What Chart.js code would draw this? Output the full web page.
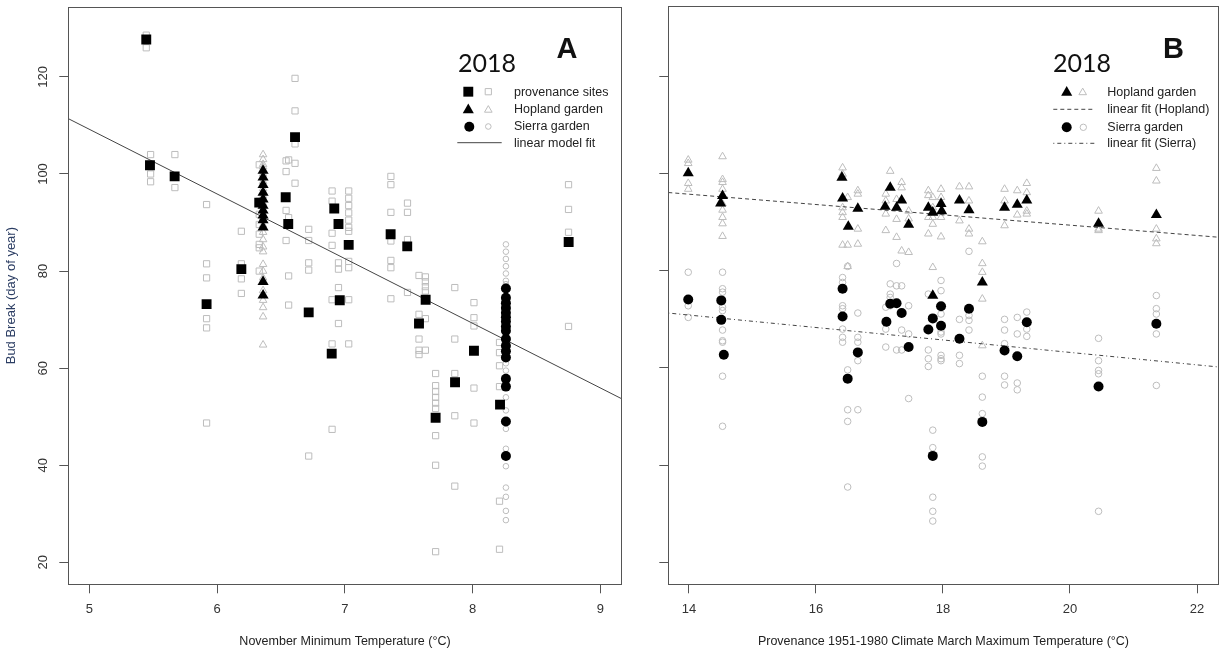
<!DOCTYPE html>
<html lang="en">
<head>
<meta charset="UTF-8">
<title>Bud break 2018</title>
<style>
  body{margin:0;background:#fff;}
  #wrap{position:relative;width:1225px;height:653px;}
  canvas{position:absolute;top:0;}
  #cA{left:0;}
  #cB{left:640px;}
</style>
</head>
<body>
<div id="wrap">
  <canvas id="cA" width="640" height="653"></canvas>
  <canvas id="cB" width="585" height="653"></canvas>
</div>
<script src="https://cdn.jsdelivr.net/npm/chart.js"></script>
<script>
// ---------- panel A : November minimum temperature ----------
var provX = [5.446, 5.475, 5.668, 5.918, 6.19, 6.33, 6.537, 6.557, 6.61, 6.717, 6.917, 6.95, 7.03, 6.96, 6.897, 7.358, 7.488, 7.632, 7.58, 8.01, 7.862, 7.71, 8.214, 8.751];
var provY = [127.7, 101.8, 99.5, 73.2, 80.4, 94.1, 95.2, 89.7, 107.6, 71.5, 92.9, 89.7, 85.4, 74.0, 63.0, 87.6, 85.1, 74.1, 69.2, 63.6, 57.1, 49.8, 52.5, 86.0];

var hoplandAX = [6.36, 6.36, 6.36, 6.36, 6.36, 6.36, 6.36, 6.36, 6.36, 6.36, 6.36, 6.36];
var hoplandAY = [100.7, 99.3, 97.8, 96.2, 94.8, 93.5, 92.5, 91.5, 90.5, 89.0, 77.8, 75.0];

var sierraAX = [8.26, 8.26, 8.26, 8.26, 8.26, 8.26, 8.26, 8.26, 8.26, 8.26, 8.26, 8.26, 8.26, 8.26, 8.26, 8.26, 8.26];
var sierraAY = [76.4, 74.5, 73.4, 72.4, 71.4, 70.5, 69.6, 68.6, 67.7, 66.0, 64.6, 63.5, 62.2, 57.8, 56.2, 49.0, 41.9];

// individual trees (hollow grey)
var provTreeX = [5.446, 5.446, 5.48, 5.48, 5.48, 5.48, 5.67, 5.67,
  5.918, 5.918, 5.918, 5.918, 5.918, 5.918, 6.19, 6.19, 6.19, 6.19,
  6.33, 6.33, 6.33, 6.33, 6.33, 6.33, 6.33, 6.33,
  6.54, 6.54, 6.54, 6.54, 6.56, 6.56, 6.56, 6.56, 6.61, 6.61, 6.61, 6.61, 6.61,
  6.717, 6.717, 6.717, 6.717, 6.717, 6.90, 6.90, 6.90, 6.90, 6.90, 6.90, 6.90,
  6.95, 6.95, 6.95, 6.95, 7.03, 7.03, 7.03, 7.03, 7.03, 7.03, 7.03, 7.03, 7.03, 7.03, 7.03,
  7.36, 7.36, 7.36, 7.36, 7.36, 7.36, 7.36, 7.49, 7.49, 7.49, 7.49,
  7.58, 7.58, 7.58, 7.58, 7.58, 7.63, 7.63, 7.63, 7.63, 7.63, 7.63,
  7.86, 7.86, 7.86, 7.86, 7.86, 8.01, 8.01, 8.01, 8.01, 8.01,
  7.71, 7.71, 7.71, 7.71, 7.71, 7.71, 7.71, 7.71, 7.71,
  8.21, 8.21, 8.21, 8.21, 8.21, 8.21, 8.75, 8.75, 8.75, 8.75];
var provTreeY = [128.6, 126.0, 104.0, 102.0, 100.0, 98.4, 104.0, 97.2,
  93.7, 81.5, 78.6, 70.2, 68.3, 48.7, 88.2, 81.5, 78.4, 75.4,
  101.9, 94.4, 91.7, 89.6, 87.6, 85.5, 84.8, 80.0,
  102.7, 100.5, 92.5, 86.3, 102.9, 91.0, 79.0, 73.0, 119.7, 113.0, 106.2, 102.2, 98.1,
  88.6, 86.3, 81.7, 80.2, 41.9, 96.5, 94.4, 87.8, 85.3, 74.1, 65.0, 47.4,
  81.7, 80.4, 76.6, 69.2, 96.5, 95.0, 93.5, 92.0, 90.5, 89.0, 88.2, 82.0, 80.7, 74.1, 65.0,
  99.5, 97.8, 92.1, 86.2, 82.2, 80.7, 74.3, 94.0, 92.1, 86.5, 75.6,
  79.1, 71.1, 66.0, 63.7, 62.8, 78.8, 77.8, 76.8, 75.9, 70.2, 63.7,
  76.6, 66.0, 58.9, 50.2, 35.7, 73.5, 70.4, 68.7, 55.9, 48.7,
  58.9, 56.4, 55.2, 54.0, 52.8, 51.7, 46.1, 40.0, 22.2,
  65.3, 63.2, 60.5, 56.2, 32.6, 22.7, 97.8, 92.7, 88.0, 68.6];

var hoplandTreeAX = [6.36, 6.36, 6.36, 6.36, 6.36, 6.36, 6.36, 6.36, 6.36, 6.36, 6.36, 6.36,
  6.36, 6.36, 6.36, 6.36, 6.36, 6.36, 6.36, 6.36, 6.36, 6.36, 6.36, 6.36];
var hoplandTreeAY = [104.0, 103.0, 102.0, 101.5, 100.0, 98.5, 97.0, 95.5, 94.0, 92.5, 91.0, 89.5,
  88.0, 86.5, 85.0, 84.0, 81.4, 80.0, 78.6, 76.0, 74.0, 72.5, 70.6, 64.8];

var sierraTreeAX = [8.26, 8.26, 8.26, 8.26, 8.26, 8.26, 8.26, 8.26, 8.26, 8.26, 8.26, 8.26,
  8.26, 8.26, 8.26, 8.26, 8.26, 8.26, 8.26, 8.26, 8.26, 8.26, 8.26, 8.26, 8.26];
var sierraTreeAY = [85.5, 84.0, 82.5, 81.0, 79.5, 78.0, 77.3, 75.0, 73.0, 71.0, 69.0, 67.0,
  65.0, 63.0, 61.0, 59.5, 54.0, 51.3, 47.5, 43.4, 39.8, 35.4, 33.5, 30.6, 28.7];

var fitAX = [4.836, 9.166];
var fitAY = [111.4, 53.7];

var xTicksA = [5, 6, 7, 8, 9];
var yTicks = [20, 40, 60, 80, 100, 120];

// ---------- panel B : March maximum temperature ----------
var hopBX = [13.99, 14.53, 14.50, 16.41, 16.42, 16.66, 16.51, 17.17, 17.09, 17.27, 17.35, 17.46, 17.77, 17.84, 17.97, 17.98, 17.84, 18.26, 18.41, 18.97, 19.17, 19.32, 18.62, 20.45, 21.36];
var hopBY = [100.1, 95.4, 93.9, 99.2, 94.9, 92.8, 89.1, 97.1, 93.2, 93.0, 94.5, 89.5, 93.0, 92.0, 93.8, 92.3, 74.9, 94.5, 92.5, 93.0, 93.6, 94.5, 77.6, 89.7, 91.5];

var sieBX = [13.99, 14.51, 14.51, 14.55, 16.42, 16.42, 16.66, 16.50, 17.11, 17.17, 17.27, 17.35, 17.46, 17.77, 17.84, 17.97, 17.97, 18.26, 18.41, 18.62, 18.97, 19.17, 19.32, 20.45, 21.36, 17.84];
var sieBY = [74.1, 73.9, 69.9, 62.7, 76.3, 70.6, 63.2, 57.8, 69.5, 73.2, 73.3, 71.3, 64.3, 67.9, 70.2, 72.7, 68.7, 66.0, 72.2, 48.9, 63.6, 62.4, 69.4, 56.2, 69.1, 41.9];

var hopTreeBX = [13.99, 13.99, 13.99, 13.99,
  14.53, 14.53, 14.53, 14.53, 14.53, 14.53, 14.53, 14.53, 14.53,
  16.42, 16.42, 16.42, 16.42, 16.42, 16.42, 16.5, 16.5, 16.5, 16.66, 16.66, 16.66, 16.66,
  17.1, 17.1, 17.1, 17.1, 17.17, 17.27, 17.27, 17.27, 17.35, 17.35, 17.35, 17.46, 17.46, 17.46,
  17.77, 17.77, 17.77, 17.77, 17.84, 17.84, 17.84, 17.84, 17.84, 17.97, 17.97, 17.97, 17.97,
  18.26, 18.26, 18.41, 18.41, 18.41, 18.41, 18.62, 18.62, 18.62, 18.62, 18.62,
  18.97, 18.97, 18.97, 19.17, 19.17, 19.32, 19.32, 19.32, 19.32, 19.32,
  20.45, 20.45, 20.45, 21.36, 21.36, 21.36, 21.36, 21.36];
var hopTreeBY = [102.8, 102.1, 98.0, 96.8,
  103.5, 98.8, 98.2, 96.8, 93.8, 92.5, 91.0, 89.7, 87.1,
  101.2, 99.9, 93.0, 92.0, 91.0, 85.3, 85.3, 80.9, 95.1, 96.5, 95.8, 88.6, 85.5,
  95.8, 94.4, 91.7, 88.3, 100.5, 94.7, 90.6, 86.9, 98.2, 97.1, 84.1, 92.3, 90.7, 83.8,
  96.5, 95.5, 91.0, 87.6, 95.1, 93.0, 91.0, 89.6, 80.7, 96.8, 95.1, 91.0, 87.0,
  97.3, 90.3, 97.3, 94.4, 88.6, 87.6, 86.0, 81.5, 79.7, 74.2, 64.6,
  96.8, 94.4, 89.3, 96.5, 91.5, 98.0, 96.1, 94.7, 92.3, 91.7,
  92.3, 88.6, 88.3, 101.1, 98.5, 88.6, 86.6, 85.6];

var sieTreeBX = [13.99, 13.99, 13.99,
  14.53, 14.53, 14.53, 14.53, 14.53, 14.53, 14.53, 14.53, 14.53, 14.53,
  16.42, 16.42, 16.42, 16.42, 16.42, 16.42, 16.42, 16.5, 16.5, 16.5, 16.5, 16.5,
  16.66, 16.66, 16.66, 16.66, 16.66, 17.1, 17.1, 17.1, 17.17, 17.17, 17.17, 17.17,
  17.27, 17.27, 17.27, 17.35, 17.35, 17.35, 17.46, 17.46, 17.46,
  17.77, 17.77, 17.77, 17.77, 17.84, 17.84, 17.84, 17.84, 17.84,
  17.97, 17.97, 17.97, 17.97, 17.97, 17.97, 17.97, 17.97,
  18.26, 18.26, 18.26, 18.41, 18.41, 18.41, 18.41, 18.62, 18.62, 18.62, 18.62, 18.62,
  18.97, 18.97, 18.97, 18.97, 18.97, 19.17, 19.17, 19.17, 19.17, 19.32, 19.32, 19.32,
  20.45, 20.45, 20.45, 20.45, 20.45, 21.36, 21.36, 21.36, 21.36, 21.36];
var sieTreeBY = [79.7, 72.8, 70.4,
  79.7, 76.3, 75.6, 72.5, 71.8, 67.8, 65.6, 65.3, 58.3, 48.0,
  78.6, 77.6, 72.8, 72.2, 68.0, 66.3, 65.3, 80.9, 59.6, 51.4, 49.0, 35.5,
  71.3, 66.3, 65.3, 61.5, 51.4, 72.5, 68.0, 64.3, 77.3, 75.2, 74.5, 72.8,
  76.9, 81.5, 63.7, 76.9, 67.8, 63.7, 72.8, 67.0, 53.7,
  75.2, 63.7, 61.9, 60.3, 47.2, 43.6, 33.4, 30.5, 28.5,
  78.0, 75.9, 71.1, 67.4, 67.0, 62.6, 61.9, 61.5,
  70.0, 62.6, 60.9, 84.0, 70.8, 69.8, 67.8, 58.3, 54.0, 50.6, 41.7, 39.8,
  70.0, 67.8, 65.0, 58.3, 56.5, 70.4, 67.0, 56.9, 55.5, 71.5, 68.0, 66.5,
  66.1, 61.5, 59.5, 58.8, 30.5, 74.9, 72.2, 71.1, 67.0, 56.4];

var hopFitX = [13.676, 22.34];
var hopFitY = [96.1, 86.9];
var sieFitX = [13.676, 22.34];
var sieFitY = [71.3, 60.2];

var xTicksB = [14, 16, 18, 20, 22];

// ---------- helpers ----------
var GREY = '#bdbdbd';
var FONT = 'Liberation Sans, Arial, sans-serif';

function pts(xs, ys) {
  return xs.map(function (x, i) { return {x: x, y: ys[i]}; });
}

function solid(label, xs, ys, style, r) {
  return {label: label, data: pts(xs, ys), pointStyle: style, pointRadius: r,
    backgroundColor: '#000', borderColor: '#000', borderWidth: 0, order: 1};
}
function hollow(label, xs, ys, style, r) {
  return {label: label, data: pts(xs, ys), pointStyle: style, pointRadius: r,
    backgroundColor: 'rgba(0,0,0,0)', borderColor: GREY, borderWidth: 1, order: 3};
}
function fitLine(label, xs, ys, dash) {
  return {label: label, data: pts(xs, ys), showLine: true, pointRadius: 0,
    borderColor: '#444', borderWidth: 1, borderDash: dash, order: 2};
}

function axisX(min, max, ticks, title) {
  return {
    type: 'linear', min: min, max: max,
    afterBuildTicks: function (s) { s.ticks = ticks.map(function (v) { return {value: v}; }); },
    afterFit: function (s) { s.height = 68.7; },
    grid: {drawOnChartArea: false, drawTicks: true, tickLength: 9, color: '#555'},
    border: {display: false},
    ticks: {color: '#333', font: {family: FONT, size: 13}, padding: 8, maxRotation: 0},
    title: {display: true, text: title, color: '#222', font: {family: FONT, size: 12.5},
      padding: {top: 0, bottom: 3.5}}
  };
}
function axisY(width, showTitle) {
  return {
    type: 'linear', min: 15.48, max: 134.4,
    afterBuildTicks: function (s) { s.ticks = yTicks.map(function (v) { return {value: v}; }); },
    afterFit: function (s) { s.width = width; },
    grid: {drawOnChartArea: false, drawTicks: true, tickLength: 9, color: '#555'},
    border: {display: false},
    ticks: {display: false},
    title: {display: showTitle, text: 'Bud Break (day of year)', color: '#2b3d63',
      font: {family: FONT, size: 13}, padding: {top: 4, bottom: 0}}
  };
}

// box around the plotting region (R style)
var frame = {
  id: 'frame',
  afterDraw: function (chart) {
    var a = chart.chartArea, ctx = chart.ctx;
    ctx.save();
    ctx.strokeStyle = '#555';
    ctx.lineWidth = 1;
    ctx.strokeRect(Math.round(a.left) + 0.5, Math.round(a.top) + 0.5,
      Math.round(a.right - a.left), Math.round(a.bottom - a.top));
    ctx.restore();
  }
};

function mark(ctx, style, x, y, r, filled) {
  ctx.beginPath();
  if (style === 'rect') {
    var s = r * Math.SQRT1_2;
    ctx.rect(x - s, y - s, 2 * s, 2 * s);
  } else if (style === 'triangle') {
    ctx.moveTo(x, y - r);
    ctx.lineTo(x + r * 0.866, y + r / 2);
    ctx.lineTo(x - r * 0.866, y + r / 2);
    ctx.closePath();
  } else {
    ctx.arc(x, y, r, 0, Math.PI * 2);
  }
  if (filled) { ctx.fillStyle = '#000'; ctx.fill(); }
  else { ctx.strokeStyle = GREY; ctx.lineWidth = 1; ctx.stroke(); }
}

function heading(ctx, year, yx, letter, lx) {
  ctx.fillStyle = '#111';
  ctx.textAlign = 'center';
  ctx.textBaseline = 'middle';
  ctx.font = '25px Lato, "Open Sans", sans-serif';
  ctx.fillText(year, yx, 64);
  ctx.font = 'bold 29px ' + FONT;
  ctx.fillText(letter, lx, 50);
}

function legendText(ctx, t, x, y) {
  ctx.fillStyle = '#222';
  ctx.textAlign = 'left';
  ctx.textBaseline = 'middle';
  ctx.font = '12.5px ' + FONT;
  ctx.fillText(t, x, y);
}

var extrasA = {
  id: 'extrasA',
  afterDraw: function (chart) {
    var ctx = chart.ctx, ys = chart.scales.y;
    ctx.save();
    // rotated y tick labels
    ctx.fillStyle = '#333';
    ctx.font = '13px ' + FONT;
    ctx.textAlign = 'center';
    ctx.textBaseline = 'middle';
    yTicks.forEach(function (v) {
      ctx.save();
      ctx.translate(43, ys.getPixelForValue(v));
      ctx.rotate(-Math.PI / 2);
      ctx.fillText(String(v), 0, 0);
      ctx.restore();
    });
    heading(ctx, '2018', 487, 'A', 567);
    mark(ctx, 'rect', 468.3, 91.7, 7.0, true);
    mark(ctx, 'rect', 488.3, 91.7, 4.4, false);
    legendText(ctx, 'provenance sites', 514, 92.5);
    mark(ctx, 'triangle', 468.3, 110, 6.4, true);
    mark(ctx, 'triangle', 488.3, 110, 4.4, false);
    legendText(ctx, 'Hopland garden', 514, 109.5);
    mark(ctx, 'circle', 469.3, 126.7, 5, true);
    mark(ctx, 'circle', 488.3, 126.5, 2.8, false);
    legendText(ctx, 'Sierra garden', 514, 127);
    ctx.strokeStyle = '#444';
    ctx.lineWidth = 1;
    ctx.beginPath();
    ctx.moveTo(457.3, 142.7);
    ctx.lineTo(501.7, 142.7);
    ctx.stroke();
    legendText(ctx, 'linear model fit', 514, 143.5);
    ctx.restore();
  }
};

var extrasB = {
  id: 'extrasB',
  afterDraw: function (chart) {
    var ctx = chart.ctx;
    ctx.save();
    heading(ctx, '2018', 442, 'B', 533.5);
    mark(ctx, 'triangle', 426.7, 92.5, 6.4, true);
    mark(ctx, 'triangle', 442.7, 92.5, 4.4, false);
    legendText(ctx, 'Hopland garden', 467.3, 93);
    ctx.strokeStyle = '#444';
    ctx.lineWidth = 1;
    ctx.setLineDash([4, 3]);
    ctx.beginPath();
    ctx.moveTo(413.3, 109.3);
    ctx.lineTo(455, 109.3);
    ctx.stroke();
    legendText(ctx, 'linear fit (Hopland)', 467.3, 110);
    ctx.setLineDash([]);
    mark(ctx, 'circle', 426.7, 127.3, 5, true);
    mark(ctx, 'circle', 443.3, 127.3, 3.2, false);
    legendText(ctx, 'Sierra garden', 467.3, 127.5);
    ctx.strokeStyle = '#444';
    ctx.setLineDash([1, 3, 4, 3]);
    ctx.beginPath();
    ctx.moveTo(413.3, 143.3);
    ctx.lineTo(455, 143.3);
    ctx.stroke();
    ctx.setLineDash([]);
    legendText(ctx, 'linear fit (Sierra)', 467.3, 144);
    ctx.restore();
  }
};

var base = {
  responsive: false,
  animation: false,
  devicePixelRatio: 1,
  plugins: {legend: {display: false}, tooltip: {enabled: false}}
};

new Chart(document.getElementById('cA').getContext('2d'), {
  type: 'scatter',
  data: {
    datasets: [
      solid('provenance sites', provX, provY, 'rect', 7.0),
      solid('Hopland garden', hoplandAX, hoplandAY, 'triangle', 6.4),
      solid('Sierra garden', sierraAX, sierraAY, 'circle', 5),
      fitLine('linear model fit', fitAX, fitAY, []),
      hollow('provenance trees', provTreeX, provTreeY, 'rect', 4.4),
      hollow('Hopland trees', hoplandTreeAX, hoplandTreeAY, 'triangle', 4.4),
      hollow('Sierra trees', sierraTreeAX, sierraTreeAY, 'circle', 2.8)
    ]
  },
  options: Object.assign({}, base, {
    layout: {padding: {left: 0, right: 18.3, top: 5.3, bottom: 0}},
    scales: {
      x: axisX(4.836, 9.166, xTicksA, 'November Minimum Temperature (\u00B0C)'),
      y: axisY(68.3, true)
    }
  }),
  plugins: [frame, extrasA]
});

new Chart(document.getElementById('cB').getContext('2d'), {
  type: 'scatter',
  data: {
    datasets: [
      solid('Hopland garden', hopBX, hopBY, 'triangle', 6.4),
      solid('Sierra garden', sieBX, sieBY, 'circle', 5),
      fitLine('linear fit (Hopland)', hopFitX, hopFitY, [4, 3]),
      fitLine('linear fit (Sierra)', sieFitX, sieFitY, [1, 3, 4, 3]),
      hollow('Hopland trees', hopTreeBX, hopTreeBY, 'triangle', 4.4),
      hollow('Sierra trees', sieTreeBX, sieTreeBY, 'circle', 3.3)
    ]
  },
  options: Object.assign({}, base, {
    layout: {padding: {left: 0, right: 3.3, top: 5.3, bottom: 0}},
    scales: {
      x: axisX(13.676, 22.34, xTicksB, 'Provenance 1951-1980 Climate March Maximum Temperature (\u00B0C)'),
      y: axisY(28.3, false)
    }
  }),
  plugins: [frame, extrasB]
});
</script>
</body>
</html>
